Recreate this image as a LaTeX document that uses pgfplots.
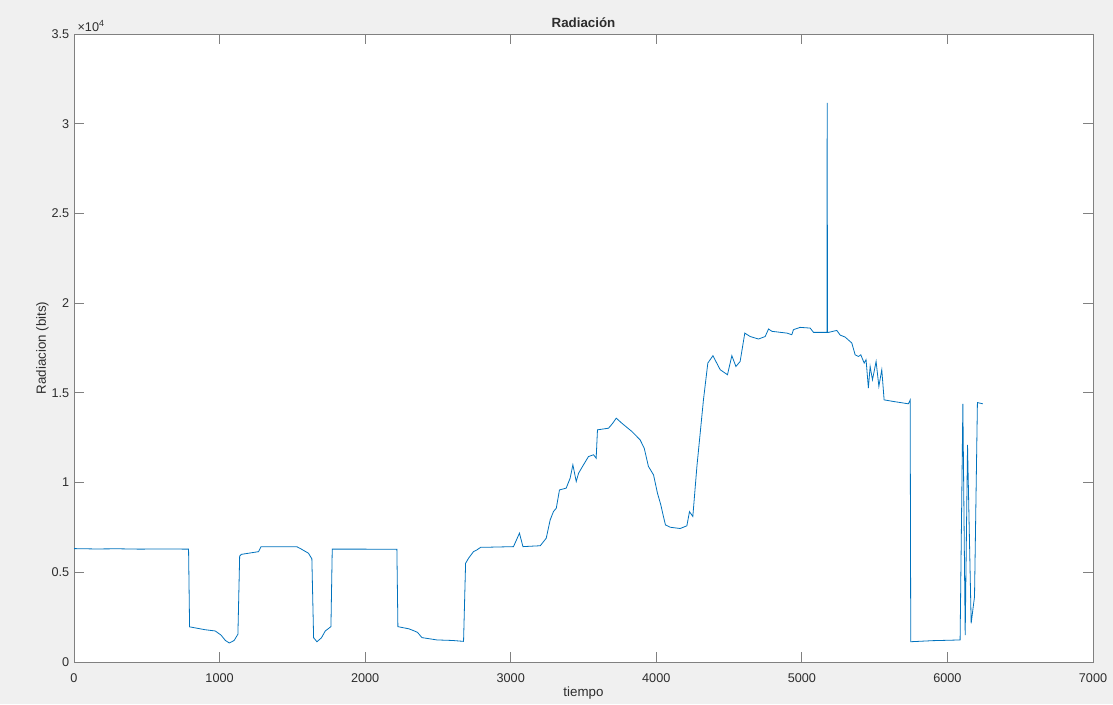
\documentclass[border=0pt]{standalone}
\usepackage{fontspec}
\setmainfont{Liberation Sans}
\usepackage{pgfplots}
\pgfplotsset{compat=1.18}
\usetikzlibrary{backgrounds}

\definecolor{mlblue}{RGB}{0,114,189}
\definecolor{figbg}{RGB}{240,240,240}
\definecolor{axgray}{RGB}{128,128,128}
\definecolor{txtgray}{RGB}{45,45,45}

\begin{document}
\begin{tikzpicture}
\begin{axis}[
    scale only axis,
    width=764.25pt, height=471pt,
    xmin=0, xmax=7000, ymin=0, ymax=35000,
    xtick={0,1000,...,7000},
    ytick={0,5000,...,35000},
    scaled x ticks=false,
    scaled y ticks=base 10:-4,
    ytick scale label code/.code={×10\textsuperscript{4}},
    every y tick scale label/.style={at={(rel axis cs:0,1)}, anchor=south west,
        inner sep=0pt, xshift=2.5pt, yshift=1.5pt, text=txtgray,
        font=\fontsize{9.5}{11}\selectfont},
    /pgf/number format/assume math mode=true,
    /pgf/number format/1000 sep={},
    tick align=inside,
    major tick length=7.5pt,
    axis line style={axgray, line width=0.75pt},
    tick style={axgray, line width=0.75pt},
    tick label style={text=txtgray, font=\fontsize{9.5}{11}\selectfont},
    xticklabel style={anchor=base, yshift=-15pt},
    axis background/.style={fill=white},
    title={Radiación},
    every axis title shift=0pt,
    title style={at={(axis description cs:0.5,1)}, anchor=south, inner sep=0pt,
        yshift=4.5pt, font=\bfseries, text=txtgray},
    xlabel={tiempo},
    xlabel style={at={(axis description cs:0.5,0)}, anchor=base, yshift=-25.5pt, text=txtgray},
    ylabel={Radiacion (bits)},
    ylabel style={at={(axis description cs:-0.0275,0.5)}, anchor=base, text=txtgray},
]
\addplot[mlblue, line width=0.6pt] coordinates {
(0,6320) (150,6300) (300,6310) (450,6290) (600,6300) (787,6290)
(794,1960) (900,1800) (970,1730) (1010,1500) (1040,1200) (1067,1060)
(1100,1200) (1126,1550) (1138,5900) (1150,6000) (1268,6150) (1284,6420)
(1400,6420) (1532,6420) (1560,6300) (1611,6060) (1634,5750)
(1646,1350) (1669,1130) (1700,1350) (1726,1730) (1765,1970)
(1774,6290) (2000,6290) (2218,6280)
(2225,1970) (2300,1850) (2332,1750) (2360,1650) (2390,1360) (2493,1230)
(2600,1200) (2676,1150)
(2690,5500) (2710,5780) (2744,6150) (2768,6250) (2795,6400) (2859,6400)
(3019,6430) (3060,7180) (3084,6430) (3203,6480) (3244,6900) (3271,7920)
(3294,8390) (3313,8570) (3335,9590) (3381,9690) (3408,10240)
(3427,10990) (3450,10060) (3466,10520) (3500,10990) (3534,11450)
(3569,11550) (3587,11360) (3596,12940) (3672,13030) (3700,13300)
(3725,13590) (3763,13310) (3832,12850) (3889,12380) (3917,11920)
(3946,10900) (3981,10430) (4008,9410) (4031,8760) (4049,8110)
(4063,7640) (4096,7510) (4164,7440) (4210,7590)
(4228,8380) (4251,8110) (4279,10900) (4297,12380) (4324,14610)
(4354,16660) (4389,17070) (4439,16290) (4489,16010) (4519,17070)
(4547,16470) (4576,16750) (4608,18330) (4645,18140) (4702,18000)
(4748,18140) (4771,18560) (4794,18430) (4897,18330) (4931,18240)
(4942,18520) (4988,18650) (5057,18610) (5080,18370) (5126,18370)
(5172,18370) (5174,31160) (5176,18370) (5183,18370) (5240,18480)
(5263,18220) (5297,18110) (5343,17780) (5366,17120) (5389,17030)
(5405,17120) (5428,16660) (5441,16850) (5457,15270)
(5469,16470) (5485,15730) (5510,16750) (5529,15360) (5549,16290)
(5565,14610) (5629,14520) (5732,14390) (5744,14600)
(5748,1130) (5900,1190) (6000,1210) (6087,1230)
(6106,14390) (6122,1500) (6138,12100) (6163,2160) (6186,3640)
(6206,14460) (6243,14390)
};
\end{axis}
\begin{scope}[on background layer]
\fill[figbg] (-55.5pt,-31.5pt) rectangle (779.25pt,496.5pt);
\end{scope}
\end{tikzpicture}
\end{document}
